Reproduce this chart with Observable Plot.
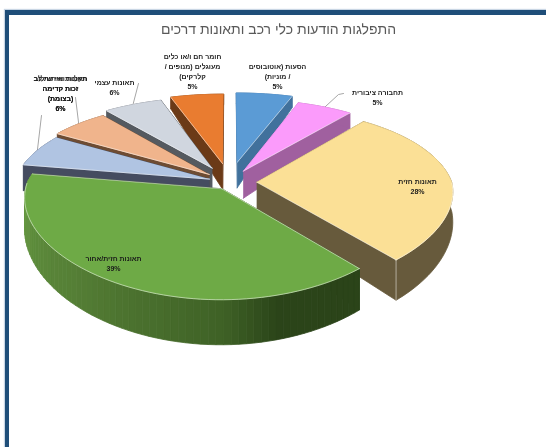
<!DOCTYPE html>
<html lang="he">
<head>
<meta charset="utf-8">
<script src="https://cdn.jsdelivr.net/npm/d3@7"></script>
<script src="https://cdn.jsdelivr.net/npm/@observablehq/plot@0.6"></script>
<style>
  html,body{margin:0;padding:0;background:#fff;overflow:hidden}
  #page{position:relative;width:546px;height:447px;overflow:hidden}
  #frame{position:absolute;left:5px;top:10px;right:-10px;bottom:-10px;border-left:4px solid #1f4e79;border-top:5px solid #1f4e79;box-shadow:-1px -1px 1px #c9d6e4}
  #chart{position:absolute;left:0;top:0;filter:blur(0.5px)}
  #chart svg{direction:rtl}
</style>
</head>
<body>
<div id="page"><div id="frame"></div><div id="chart"></div></div>
<script>
const title = "התפלגות הודעות כלי רכב ותאונות דרכים";
const categories = [
  "הסעות (אוטובוסים\n/ מוניות)",
  "תחבורה ציבורית",
  "תאונות חזית",
  "תאונות חזית/אחור",
  "תאונות ואי שילוב\nזכות קדימה\n(בצומת)",
  "תקלות ואיתות לב\nזכות קדימה\n(בצומת)",
  "תאונות עצמי",
  "חומר חם ו/או כלים\nמעוגלים (מנופים /\nקלרקים)"
];
const values = [5.4, 5.3, 28, 39, 6, 5.6, 5.6, 5.1];
const topColors  = ["#5b9bd5","#fb9bfb","#fbe096","#6eaa46","#b0c4e2","#f0b48c","#d0d6df","#e97c30"];
const wallColors = ["#41719c","#a0609f","#675a3c","#2b4419","#454c60","#6e4c33","#555a60","#6b3a17"];
const explode    = [0.24, 0.15, 0.14, 0.08, 0.11, 0.14, 0.19, 0.22];
const drawOrder  = [0, 1, 7, 6, 5, 4, 2, 3];
const frontEdge  = [1, 1, 1, 0, 0, 0, 0, 0];
const labelX     = [277, 377, 417, 113, 60, 60, 114, 192];
const labelY     = [61, 87, 176, 253, 73, 73, 77, 51];
const leaderFrom = {1:[[343,93],[338,94]], 4:[[41,115]], 5:[[75,97]], 6:[[138,83]]};

// Pie view (tilt, perspective, depth)
const cx = 229, cy = 182, rx = 195, ry = 88.5, persp = 0.18;
const depth = v => 29 + 15 * v;

const total = d3.sum(values);
const rad = d => d * Math.PI / 180;
let acc = 0;
const slices = values.map((v, i) => {
  const a0 = acc / total * 360; acc += v; const a1 = acc / total * 360;
  const mid = rad((a0 + a1) / 2);
  return {i, a0, a1, ex: explode[i] * Math.sin(mid), ey: -explode[i] * Math.cos(mid)};
});
function pt(s, deg, r = 1, z = 0) {
  const u = Math.sin(rad(deg)) * r + s.ex, v = -Math.cos(rad(deg)) * r + s.ey;
  const p = 1 / (1 - v * persp);
  const xs = 1 + (p - 1) * (v < 0 ? 0.8 : 0.5);
  return {x: cx + u * rx * xs, y: cy + v * ry * p + z * depth(v), v};
}
const greenShade = d3.scaleLinear().domain([280, 225, 180, 165, 140])
  .range(["#6a9f45","#557f36","#3f6226","#2b4419","#2b4419"]);

const polys = [];
let pid = 0;
const add = (points, c) => {
  const id = pid++;
  points.forEach(p => polys.push({x: p.x, y: p.y, id, c}));
};
for (const k of drawOrder) {
  const s = slices[k];
  const tip = pt(s, 0, 0), tipB = pt(s, 0, 0, 1);
  add([tip, pt(s, s.a0), pt(s, s.a0, 1, 1), tipB], wallColors[k]);
  add([tip, pt(s, s.a1), pt(s, s.a1, 1, 1), tipB], wallColors[k]);
  const angles = d3.range(s.a0, s.a1, 2).concat(s.a1);
  if (k === 3) {
    for (let j = 0; j < angles.length - 1; j++) {
      const a = angles[j], b = angles[j + 1];
      add([pt(s, a), pt(s, b), pt(s, b, 1, 1), pt(s, a, 1, 1), pt(s, a)], greenShade((a + b) / 2));
    }
  } else {
    add([...angles.map(a => pt(s, a)), ...angles.slice().reverse().map(a => pt(s, a, 1, 1))], wallColors[k]);
  }
  add([tip, ...angles.map(a => pt(s, a))], topColors[k]);
}

// Light seams along the visible edges of each slice
const rims = [];
let rid = 0;
for (const k of drawOrder) {
  const s = slices[k];
  const angles = d3.range(s.a0, s.a1, 2).concat(s.a1);
  const r = rid++;
  angles.filter(a => pt(s, a).v > -0.02).forEach(a => rims.push({...pt(s, a), r}));
  const e = rid++;
  const edgeAngle = frontEdge[k] ? s.a1 : s.a0;
  rims.push({...pt(s, 0, 0), r: e}, {...pt(s, edgeAngle), r: e});
}
const yellow = slices[2];
const corner = rid++;
rims.push({...pt(yellow, yellow.a1), r: corner}, {...pt(yellow, yellow.a1, 1, 1), r: corner});
const greenBack = rid++;
rims.push({...pt(slices[3], 0, 0), r: greenBack}, {...pt(slices[3], slices[3].a1), r: greenBack});

const leaders = [];
for (const [k, pts] of Object.entries(leaderFrom)) {
  const s = slices[k];
  pts.forEach(p => leaders.push({x: p[0], y: p[1], k}));
  leaders.push({...pt(s, (s.a0 + s.a1) / 2), k});
}

const labels = slices.map(s => ({
  x: labelX[s.i], y: labelY[s.i],
  text: categories[s.i] + "\n" + Math.round(values[s.i]) + "%"
}));

const fontFamily = "'Liberation Sans', 'DejaVu Sans', sans-serif";
const chart = Plot.plot({
  width: 546, height: 447,
  marginLeft: 0, marginRight: 0, marginTop: 0, marginBottom: 0,
  x: {domain: [0, 546], range: [0, 546], axis: null},
  y: {domain: [0, 447], range: [0, 447], axis: null},
  color: {type: "identity"},
  style: {background: "transparent"},
  marks: [
    Plot.line(leaders, {x: "x", y: "y", z: "k", stroke: "#a6a6a6", strokeWidth: 1}),
    Plot.line(polys, {x: "x", y: "y", z: "id", fill: "c", stroke: "c", strokeWidth: 0.8}),
    Plot.line(rims, {x: "x", y: "y", z: "r", stroke: "#ffffff", strokeWidth: 0.7, strokeOpacity: 0.7}),
    Plot.text([title], {x: [278], y: [29], text: d => d, fontFamily, fontSize: 14, fill: "#595959"}),
    Plot.text(labels, {x: "x", y: "y", text: "text", lineAnchor: "top", lineHeight: 1.45,
      fontFamily, fontSize: 7, fontWeight: "bold", fill: "#1a1a1a"})
  ]
});
document.getElementById("chart").append(chart);
</script>
</body>
</html>
